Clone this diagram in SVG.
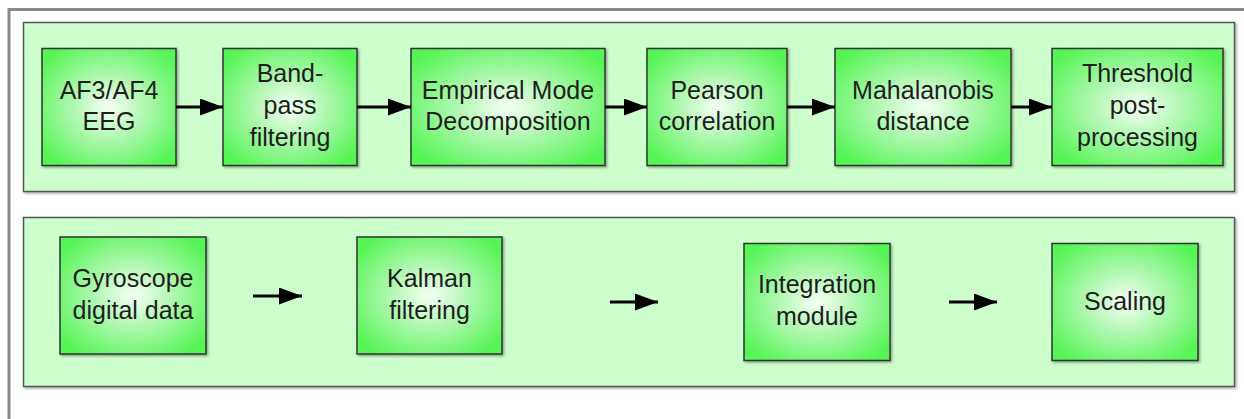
<svg xmlns="http://www.w3.org/2000/svg" width="1244" height="419" viewBox="0 0 1244 419">
<defs>
<radialGradient id="g" cx="50%" cy="50%" r="62%">
<stop offset="0" stop-color="#f6fff6"/>
<stop offset="0.5" stop-color="#a5f7a5"/>
<stop offset="1" stop-color="#55f555"/>
</radialGradient>
<filter id="sh" x="-5%" y="-5%" width="110%" height="115%">
<feDropShadow dx="1.5" dy="1.5" stdDeviation="1" flood-color="#000" flood-opacity="0.35"/>
</filter>
<marker id="ah" markerWidth="23" markerHeight="17" refX="23" refY="8.5" orient="auto" markerUnits="userSpaceOnUse">
<path d="M0,0 L23,8.5 L0,17 Z" fill="#000"/>
</marker>
</defs>
<style>
.panel{fill:#ccffcc;stroke:#555;stroke-width:1.5;filter:url(#sh)}
.node rect{fill:url(#g);stroke:#333;stroke-width:1.5;filter:url(#sh)}
.node text{font-family:"Liberation Sans",Arial,sans-serif;font-size:25px;fill:#1e1e1e;text-anchor:middle}
.conn line{stroke:#000;stroke-width:3;marker-end:url(#ah)}
</style>
<rect x="0" y="0" width="1244" height="419" fill="#fff"/>
<path d="M9,419 V9.5 H1244" fill="none" stroke="#888" stroke-width="3"/>
<rect class="panel" x="23.5" y="22.5" width="1211" height="169"/>
<rect class="panel" x="23.5" y="217.5" width="1211" height="169"/>

<g id="n1" class="node"><rect x="42" y="48.5" width="134" height="117"/><text x="109" y="99">AF3/AF4</text><text x="109" y="130">EEG</text></g>
<g id="n2" class="node"><rect x="223" y="48.5" width="134" height="117"/><text x="290" y="82">Band-</text><text x="290" y="114">pass</text><text x="290" y="146">filtering</text></g>
<g id="n3" class="node"><rect x="411" y="48.5" width="194" height="117"/><text x="508" y="99">Empirical Mode</text><text x="508" y="130">Decomposition</text></g>
<g id="n4" class="node"><rect x="647" y="48.5" width="140" height="117"/><text x="717" y="99">Pearson</text><text x="717" y="130">correlation</text></g>
<g id="n5" class="node"><rect x="835" y="48.5" width="176" height="117"/><text x="923" y="99">Mahalanobis</text><text x="923" y="130">distance</text></g>
<g id="n6" class="node"><rect x="1052" y="48.5" width="171" height="117"/><text x="1137.5" y="82">Threshold</text><text x="1137.5" y="114">post-</text><text x="1137.5" y="146">processing</text></g>

<g id="m1" class="node"><rect x="60" y="237" width="146" height="117"/><text x="133" y="287">Gyroscope</text><text x="133" y="319">digital data</text></g>
<g id="m2" class="node"><rect x="357" y="237" width="145" height="117"/><text x="429.5" y="287">Kalman</text><text x="429.5" y="319">filtering</text></g>
<g id="m3" class="node"><rect x="744" y="243.5" width="146" height="117"/><text x="817" y="293">Integration</text><text x="817" y="325">module</text></g>
<g id="m4" class="node"><rect x="1052" y="243.5" width="146" height="117"/><text x="1125" y="310">Scaling</text></g>

<g id="connectors" class="conn">
<line x1="176" y1="107" x2="223" y2="107"/>
<line x1="357" y1="107" x2="411" y2="107"/>
<line x1="605" y1="107" x2="647" y2="107"/>
<line x1="787" y1="107" x2="835" y2="107"/>
<line x1="1011" y1="107" x2="1052" y2="107"/>
<line x1="253" y1="296" x2="302" y2="296"/>
<line x1="610" y1="302" x2="658" y2="302"/>
<line x1="949" y1="302" x2="997" y2="302"/>
</g>
</svg>
